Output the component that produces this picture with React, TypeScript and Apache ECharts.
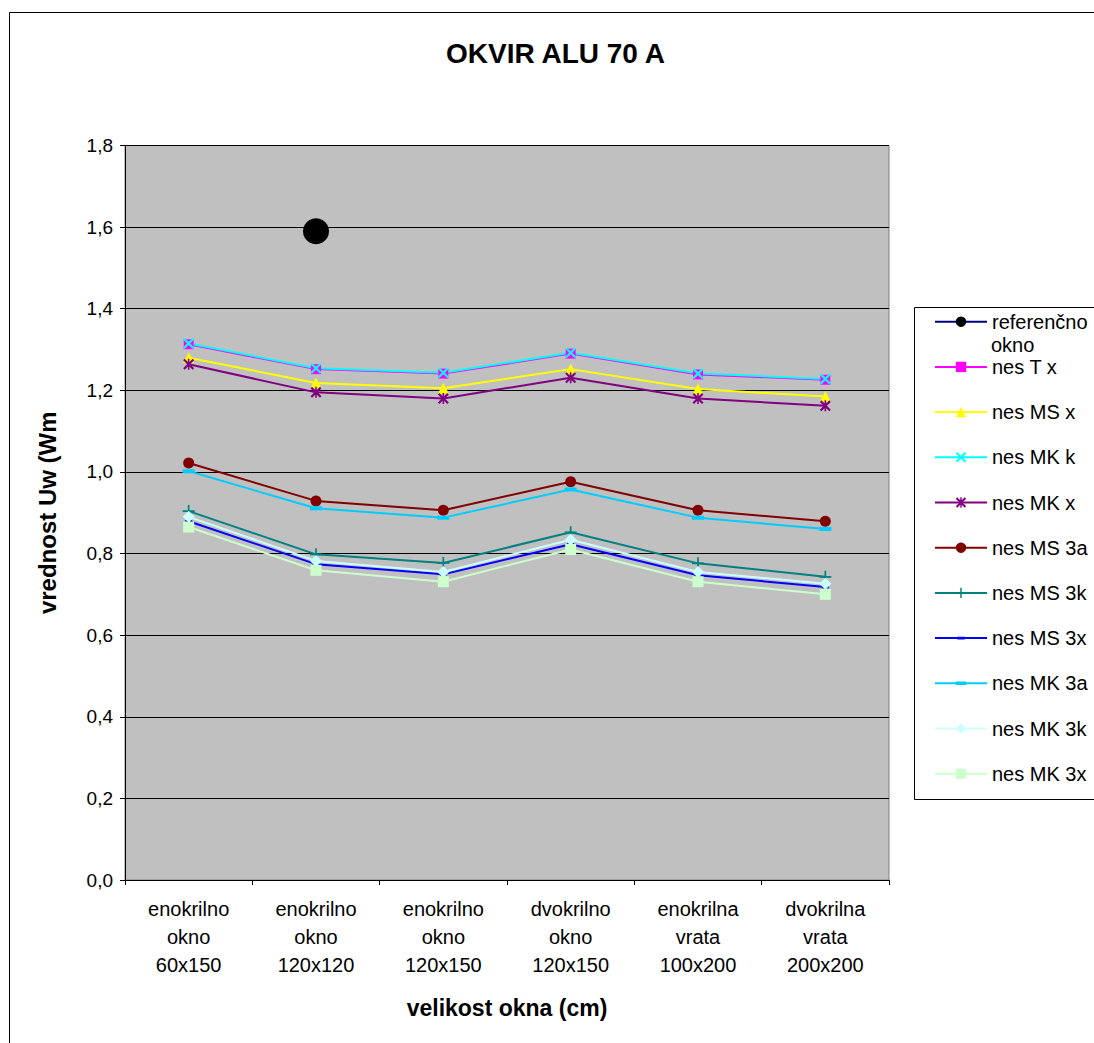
import React, { useEffect, useRef } from "react";
import * as echarts from "echarts";

const categories = [
  "enokrilno\nokno\n60x150",
  "enokrilno\nokno\n120x120",
  "enokrilno\nokno\n120x150",
  "dvokrilno\nokno\n120x150",
  "enokrilna\nvrata\n100x200",
  "dvokrilna\nvrata\n200x200",
];

const yTicks = [0, 0.2, 0.4, 0.6, 0.8, 1.0, 1.2, 1.4, 1.6, 1.8];

const referencno = [null, 1.59, null, null, null, null];
const nesTx = [1.313, 1.252, 1.241, 1.29, 1.239, 1.226];
const nesMSx = [1.28, 1.218, 1.205, 1.252, 1.203, 1.185];
const nesMKk = [1.315, 1.254, 1.243, 1.292, 1.241, 1.228];
const nesMKx = [1.264, 1.195, 1.18, 1.231, 1.18, 1.162];
const nesMS3a = [1.022, 0.929, 0.906, 0.976, 0.906, 0.879];
const nesMS3k = [0.904, 0.798, 0.777, 0.852, 0.776, 0.743];
const nesMS3x = [0.879, 0.774, 0.749, 0.823, 0.747, 0.718];
const nesMK3a = [1.002, 0.911, 0.888, 0.957, 0.888, 0.86];
const nesMK3k = [0.89, 0.782, 0.755, 0.834, 0.755, 0.726];
const nesMK3x = [0.865, 0.759, 0.731, 0.81, 0.731, 0.7];

const FONT = "'Liberation Sans', Arial, sans-serif";

const SYM_X =
  "path://M0,1.4L1.4,0L5,3.6L8.6,0L10,1.4L6.4,5L10,8.6L8.6,10L5,6.4L1.4,10L0,8.6L3.6,5Z";
const SYM_AST =
  "path://M0,1.4L1.4,0L5,3.6L8.6,0L10,1.4L6.4,5L10,8.6L8.6,10L5,6.4L1.4,10L0,8.6L3.6,5Z M4.3,0H5.7V10H4.3Z";
const SYM_PLUS =
  "path://M4.3,0H5.7V4.3H10V5.7H5.7V10H4.3V5.7H0V4.3H4.3Z";
const SYM_DASH_BIG = "path://M0,0L0,0Z M12,12L12,12Z M0,4H12V8H0Z";
const SYM_DASH_SMALL = "path://M0,0L0,0Z M10,10L10,10Z M1.5,3.6H8.5V6.4H1.5Z";

export default function App() {
  const ref = useRef<HTMLDivElement>(null);

  useEffect(() => {
    if (!ref.current) return;
    const chart = echarts.init(ref.current, null, { renderer: "svg" });

    const mk = (
      name: string,
      data: (number | null)[],
      color: string,
      symbol: string,
      symbolSize: number | number[],
      lineColor?: string,
      lineWidth = 2
    ) => ({
      name,
      type: "line",
      data,
      symbol,
      symbolSize,
      showAllSymbol: true,
      itemStyle: { color, borderWidth: 0 },
      lineStyle: { color: lineColor || color, width: lineWidth },
      emphasis: { disabled: true },
      connectNulls: false,
    });

    const series = [
      mk("referenčno okno", referencno, "#000000", "circle", 26, "#000080"),
      mk("nes T x", nesTx, "#FF00FF", "rect", 10),
      mk("nes MS x", nesMSx, "#FFFF00", "triangle", 11),
      mk("nes MK k", nesMKk, "#00FFFF", SYM_X, 11),
      mk("nes MK x", nesMKx, "#800080", SYM_AST, 11),
      mk("nes MS 3a", nesMS3a, "#800000", "circle", 11),
      mk("nes MS 3k", nesMS3k, "#008080", SYM_PLUS, 12),
      mk("nes MS 3x", nesMS3x, "#0000FF", SYM_DASH_SMALL, 10),
      mk("nes MK 3a", nesMK3a, "#00CCFF", SYM_DASH_BIG, 12),
      mk("nes MK 3k", nesMK3k, "#CCFFFF", "diamond", 12),
      mk("nes MK 3x", nesMK3x, "#CCFFCC", "rect", 11),
    ];

    chart.setOption({
      animation: false,
      textStyle: { fontFamily: FONT },
      title: {
        text: "OKVIR ALU 70 A",
        left: 446,
        top: 39,
        padding: 0,
        textStyle: { fontFamily: FONT, fontSize: 28, fontWeight: "bold", color: "#000" },
      },
      grid: {
        left: 125,
        right: 205,
        top: 145.5,
        bottom: 163,
        show: true,
        backgroundColor: "#C0C0C0",
        borderColor: "#808080",
        borderWidth: 1,
      },
      legend: {
        orient: "vertical",
        left: 934,
        top: 311.7,
        padding: 0,
        itemWidth: 52,
        itemHeight: 13,
        itemGap: 25.2,
        selectedMode: false,
        data: series.map((s) => s.name),
        formatter: (n: string) => (n === "referenčno okno" ? "referenčno" : n),
        textStyle: { fontFamily: FONT, fontSize: 20, color: "#000" },
      },
      xAxis: {
        type: "category",
        data: categories,
        boundaryGap: true,
        axisLine: { lineStyle: { color: "#000", width: 1 } },
        axisTick: { show: true, length: 5, inside: false, lineStyle: { color: "#000" } },
        axisLabel: {
          interval: 0,
          margin: 15,
          fontFamily: FONT,
          fontSize: 20,
          lineHeight: 28,
          color: "#000",
        },
        splitLine: { show: false },
        name: "velikost okna (cm)",
        nameLocation: "middle",
        nameGap: 116,
        nameTextStyle: { fontFamily: FONT, fontSize: 23, fontWeight: "bold", color: "#000" },
      },
      yAxis: {
        type: "value",
        min: 0,
        max: 1.8,
        interval: 0.2,
        axisLine: { show: true, lineStyle: { color: "#000", width: 1 } },
        axisTick: { show: true, length: 5, inside: false, lineStyle: { color: "#000" } },
        axisLabel: {
          margin: 12,
          fontFamily: FONT,
          fontSize: 19,
          color: "#000",
          formatter: (v: number) => {
            const t = yTicks.find((x) => Math.abs(x - v) < 1e-6);
            return (t !== undefined ? t : v).toFixed(1).replace(".", ",");
          },
        },
        splitLine: { show: true, lineStyle: { color: "#000", width: 1 } },
        name: "vrednost Uw (Wm",
        nameLocation: "middle",
        nameGap: 66,
        nameTextStyle: { fontFamily: FONT, fontSize: 24, fontWeight: "bold", color: "#000" },
      },
      graphic: [
        {
          type: "rect",
          silent: true,
          z: -1,
          shape: { x: 9.5, y: 12.5, width: 1300, height: 1300 },
          style: { fill: "none", stroke: "#000", lineWidth: 1 },
        },
        {
          type: "rect",
          silent: true,
          shape: { x: 914.5, y: 307.5, width: 400, height: 492 },
          style: { fill: "none", stroke: "#000", lineWidth: 1 },
        },
        {
          type: "text",
          silent: true,
          x: 991,
          y: 345,
          style: {
            text: "okno",
            fontFamily: FONT,
            fontSize: 20,
            fill: "#000",
            verticalAlign: "middle",
            align: "left",
          },
        },
      ],
      series,
    });

    return () => chart.dispose();
  }, []);

  return (
    <div
      ref={ref}
      style={{ position: "fixed", left: 0, top: 0, width: 1094, height: 1043, background: "#fff" }}
    />
  );
}
